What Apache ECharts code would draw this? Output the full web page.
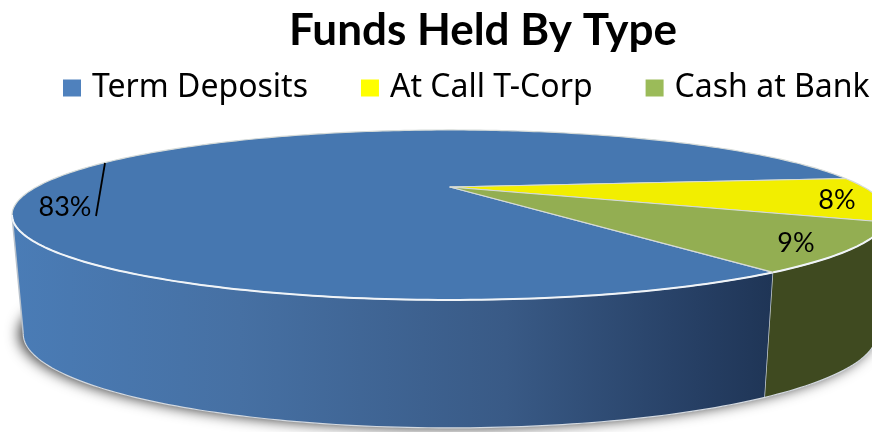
<!DOCTYPE html>
<html><head><meta charset="utf-8">
<style>html,body{margin:0;padding:0;background:#fff}#c{width:872px;height:432px}</style>
<script src="https://cdn.jsdelivr.net/npm/echarts@6/dist/echarts.min.js"></script>
</head><body><div id="c"></div>
<script>
var titleText = 'Funds Held By Type';
var categories = ['Term Deposits', 'At Call T-Corp', 'Cash at Bank'];
var shares = [82.8, 8.45, 8.75];
var colors = ['#4677b0', '#f2ee00', '#93ae52'];
var legendColors = ['#4f81bd', '#ffff00', '#9bbb59'];
var wallColors = ['#4677b0', '#8a8800', '#3f4a20'];

// Layout of the tilted disc (not data)
var FIRST_SLICE_START_DEG = -6.7;
var K = 0.329;
var TOP = {cx: 450, ay: 187, a: 75.8, b: 413.6};
var BOT = {cx: 450, ay: 303, a: 83.8, b: 403};
var SILHOUETTE_LEFT_DEG = 160.8, SILHOUETTE_RIGHT_DEG = 19.2;
var LABELS = [
  {x: 65, y: 207, line: [105, 163, 96, 216]},
  {x: 837, y: 200},
  {x: 796, y: 243}
];

function pt(e, deg) {
  var t = deg * Math.PI / 180, u = Math.cos(t), v = Math.sin(t), w = 1 - K * v;
  return [e.cx + e.b * u / w, e.ay + e.a * v / w];
}
function arc(e, from, to) {
  var out = [], n = Math.max(2, Math.ceil(Math.abs(to - from)));
  for (var i = 0; i <= n; i++) out.push(pt(e, from + (to - from) * i / n));
  return out;
}
var total = shares.reduce(function (s, x) { return s + x; }, 0);

function renderSlice(idx) {
  return function (params, api) {
    var start = FIRST_SLICE_START_DEG + api.value(0) / total * 360;
    var end = start + api.value(1) / total * 360;
    var kids = [];
    var visStart = Math.max(start, SILHOUETTE_RIGHT_DEG);
    var visEnd = Math.min(end, SILHOUETTE_LEFT_DEG);
    if (idx === 0) {
      kids.push({type: 'polygon', shape: {points: arc(BOT, 0, 360)},
        style: {fill: '#444', shadowColor: 'rgba(0,0,0,0.8)', shadowBlur: 14, shadowOffsetX: -4, shadowOffsetY: 0}});
    }
    // side wall
    if (visEnd > visStart) {
      var fill = idx === 0
        ? new echarts.graphic.LinearGradient(12, 0, 772, 0, [
            {offset: 0, color: '#4a7cb6'}, {offset: 0.3, color: '#4670a3'},
            {offset: 0.65, color: '#395a86'}, {offset: 0.9, color: '#263f64'},
            {offset: 1, color: '#1f3556'}], true)
        : wallColors[idx];
      var topEdge = arc(TOP, visStart, visEnd), botEdge = arc(BOT, visStart, visEnd);
      kids.push({type: 'polygon', shape: {points: topEdge.concat(botEdge.slice().reverse())}, style: {fill: fill}});
      kids.push({type: 'polyline', shape: {points: botEdge}, style: {fill: 'none', stroke: '#d3d9e0', lineWidth: 1.2}});
      kids.push({type: 'polyline', shape: {points: [pt(TOP, visStart), pt(BOT, visStart)]}, style: {fill: 'none', stroke: '#ccd3da', lineWidth: 1.5}});
      if (idx === 0) kids.push({type: 'polyline', shape: {points: [pt(TOP, visEnd), pt(BOT, visEnd)]}, style: {fill: 'none', stroke: '#b9c2cc', lineWidth: 1.5}});
    }
    // top face
    var apex = [TOP.cx, TOP.ay];
    kids.push({type: 'polygon', shape: {points: [apex].concat(arc(TOP, start, end))},
      style: {fill: colors[idx], stroke: '#d6dbd8', lineWidth: 1.2, lineJoin: 'round'}});
    // bright front rim
    if (visEnd > visStart) {
      kids.push({type: 'polyline', shape: {points: arc(TOP, visStart, visEnd)}, style: {fill: 'none', stroke: '#f0f4f8', lineWidth: 2}});
    }
    var L = LABELS[idx];
    if (L.line) kids.push({type: 'line', shape: {x1: L.line[0], y1: L.line[1], x2: L.line[2], y2: L.line[3]}, style: {stroke: '#000', lineWidth: 1.8}});
    kids.push({type: 'text', x: L.x, y: L.y, z2: 10, style: {
      text: Math.round(api.value(1) / total * 100) + '%',
      font: '27px Lato', fill: '#000', textAlign: 'center', textVerticalAlign: 'middle'}});
    return {type: 'group', children: kids};
  };
}

var acc = 0, order = [1, 2, 0];
var startByIndex = [];
order.forEach(function (i) { startByIndex[i] = acc; acc += shares[i]; });

var chart = echarts.init(document.getElementById('c'), null, {renderer: 'canvas'});
chart.setOption({
  animation: false,
  backgroundColor: '#fff',
  title: {text: titleText, left: 478, top: 4, textAlign: 'center',
    textStyle: {fontFamily: 'Lato', fontWeight: 'bold', fontSize: 44, color: '#000'}},
  legend: {
    data: categories, left: 58, top: 67, width: 1000, icon: 'rect', itemWidth: 18, itemHeight: 17, itemGap: 53,
    textStyle: {fontFamily: 'Noto Sans', fontSize: 32, color: '#000', padding: [0, 0, 0, 6]},
    selectedMode: false
  },
  series: categories.map(function (name, i) {
    return {
      type: 'custom', name: name, coordinateSystem: 'none', silent: true, clip: false,
      itemStyle: {color: legendColors[i]},
      renderItem: renderSlice(i),
      data: [[startByIndex[i], shares[i]]]
    };
  })
});
</script></body></html>
